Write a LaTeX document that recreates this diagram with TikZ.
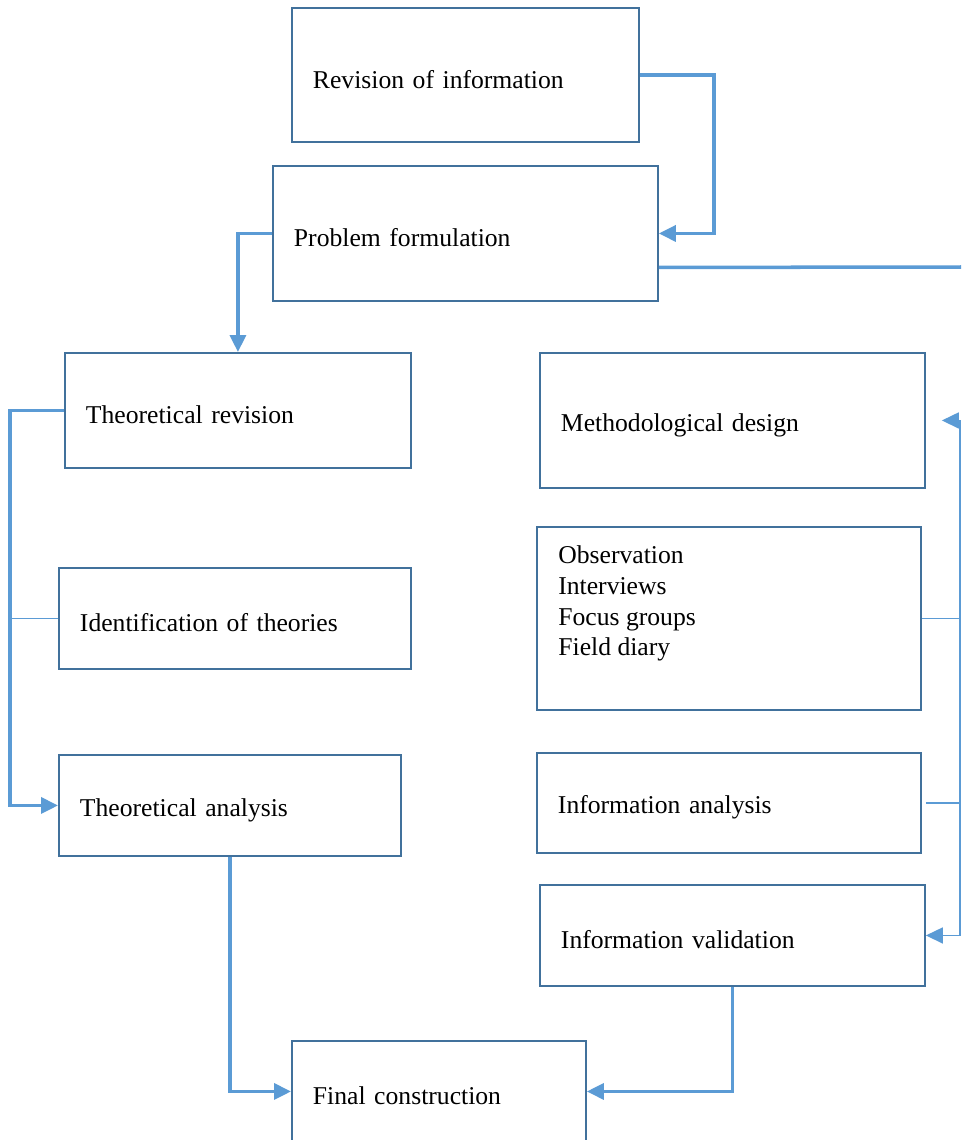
\documentclass[tikz,border=0pt]{standalone}
\usepackage{fontspec}
\setmainfont{Liberation Serif}
\usetikzlibrary{arrows.meta}

\definecolor{boxline}{HTML}{41719C}
\definecolor{linkblue}{HTML}{5B9BD5}

\begin{document}
\begin{tikzpicture}[
  x=0.02cm, y=-0.02cm,
  stage/.style={draw=boxline, line width=1.1pt, anchor=north west, inner xsep=0.42cm,
                align=left, font=\fontsize{14.6}{18}\selectfont,
                execute at begin node={\rule{0pt}{1.05em}}},
  tip/.style={-{Triangle[length=0.34cm, width=0.32cm]}},
  arrow/.style={draw=linkblue, line width=2pt, tip},
  link/.style={draw=linkblue, line width=2pt},
  thinlink/.style={draw=linkblue, line width=0.9pt}
]
\useasboundingbox (0,0) rectangle (961,1140);

% Top of the flow
\node[stage, text width=6.10cm, minimum height=2.68cm] (rev)   at (291,7)   {Revision of information};
\node[stage, text width=6.86cm, minimum height=2.70cm] (prob)  at (272,165) {Problem formulation};

% Theoretical branch
\node[stage, text width=6.08cm, minimum height=2.30cm] (threv) at (64,352)  {Theoretical revision};
\node[stage, text width=6.20cm, minimum height=2.02cm] (ident) at (58,567)  {Identification of theories};
\node[stage, text width=6.00cm, minimum height=2.02cm] (than)  at (58,754)  {Theoretical analysis};

% Methodological branch
\node[stage, text width=6.86cm, minimum height=2.70cm] (metd)  at (539,352) {Methodological design};
\node[stage, text width=6.84cm, minimum height=3.66cm] (tech)  at (536,526) {};
\node[anchor=north west, align=left, inner sep=0pt,
      font=\fontsize{14.6}{17.6}\selectfont] (techtxt) at (558,545)
  {Observation\\Interviews\\Focus groups\\Field diary};
\node[stage, text width=6.84cm, minimum height=2.00cm] (infan) at (536,752) {Information analysis};
\node[stage, text width=6.86cm, minimum height=2.02cm] (infval) at (539,884) {Information validation};

% Result
\node[stage, text width=5.04cm, minimum height=2.02cm] (final) at (291,1040) {Final construction};

% Bus lines
\coordinate (lbus) at (10,0);
\coordinate (rbus) at (960,0);
\coordinate (edge) at (961,267);

% Links between stages
\draw[arrow] (rev.east) -- ++(74,0) |- (prob.east);
\draw[arrow] (prob.west) -| (threv.north);
\draw[link] ([yshift=-0.68cm]prob.east) -- (edge);

\draw[arrow] (threv.west) -- (threv.west -| lbus) |- (than.west);
\draw[thinlink] (ident.west) -- (ident.west -| lbus);

\draw[thinlink, {Triangle[length=0.34cm, width=0.32cm]}-{Triangle[length=0.34cm, width=0.32cm]}]
  ([xshift=0.32cm]metd.east) -- (metd.east -| rbus) -- (infval.east -| rbus) -- (infval.east);
\draw[thinlink] (tech.east) -- (tech.east -| rbus);
\draw[thinlink] ([xshift=0.08cm]infan.east) -- (infan.east -| rbus);

\draw[arrow] (than.south) |- (final.west);
\draw[arrow] (infval.south) |- (final.east);

\end{tikzpicture}
\end{document}
